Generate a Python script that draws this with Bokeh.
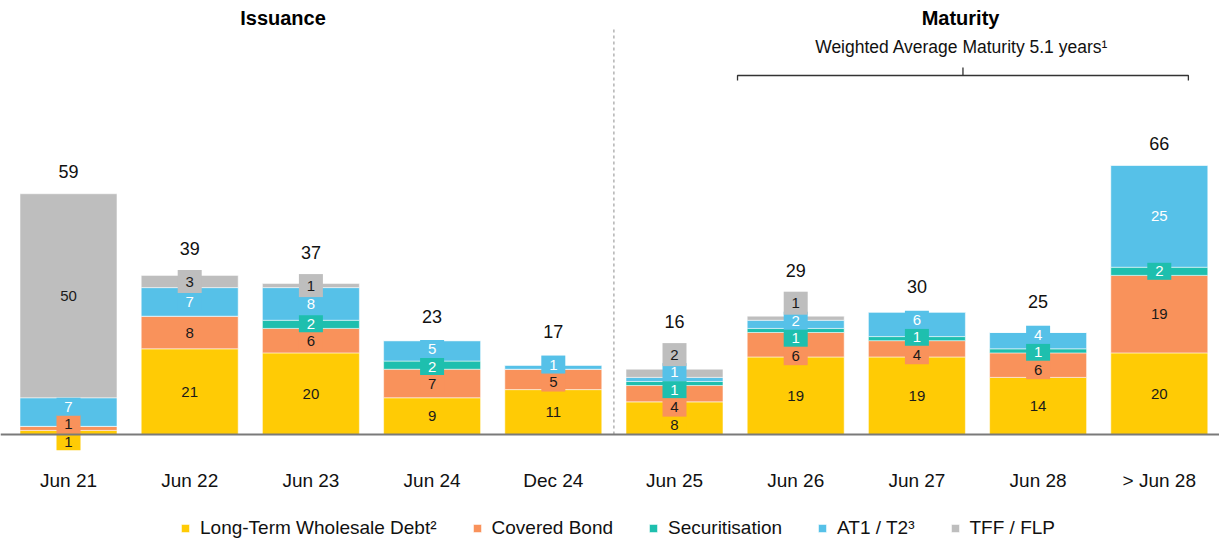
import numpy as np
from bokeh.plotting import figure
from bokeh.models import ColumnDataSource, Range1d, FixedTicker, Span, Legend, LegendItem
from bokeh.core.properties import value
from bokeh.embed import file_html
from bokeh.resources import INLINE

# ---------------- data ----------------
categories = ["Jun 21", "Jun 22", "Jun 23", "Jun 24", "Dec 24",
              "Jun 25", "Jun 26", "Jun 27", "Jun 28", "> Jun 28"]
ltwd = [1, 21, 20, 9, 11, 8, 19, 19, 14, 20]
covered_bond = [1, 8, 6, 7, 5, 4, 6, 4, 6, 19]
securitisation = [0, 0, 2, 2, 0, 1, 1, 1, 1, 2]
at1_t2 = [7, 7, 8, 5, 1, 1, 2, 6, 4, 25]
tff_flp = [50, 3, 1, 0, 0, 2, 1, 0, 0, 0]
totals = [59, 39, 37, 23, 17, 16, 29, 30, 25, 66]
series_names = ["Long-Term Wholesale Debt\u00b2", "Covered Bond", "Securitisation",
                "AT1 / T2\u00b3", "TFF / FLP"]
series_keys = ["ltwd", "cb", "sec", "at1", "tff"]
series_values = [ltwd, covered_bond, securitisation, at1_t2, tff_flp]
colors = ["#FFCB05", "#F9925B", "#1EBFAE", "#56C1E8", "#BEBEBE"]
label_colors = ["#1a1a1a", "#1a1a1a", "#ffffff", "#ffffff", "#1a1a1a"]
box_heights = [17, 19, 17, 18, 23]
issuance_title = "Issuance"
maturity_title = "Maturity"
maturity_subtitle = "Weighted Average Maturity 5.1 years\u00b9"

# ---------------- layout constants ----------------
W, H = 1219, 540
BASE_PX = 434            # baseline distance from frame top (px)
PPU = 4.08               # px per unit
y_end = BASE_PX / PPU
y_start = -(H - BASE_PX) / PPU
STEP_PX = 121.2
x_start = -68.0 / STEP_PX
x_end = x_start + W / STEP_PX
LABEL_GAP = 17.5 / PPU

SANS = "'Liberation Sans', Arial, sans-serif"

xs = list(range(len(categories)))
data = {"x": xs}
for k, v in zip(series_keys, series_values):
    data[k] = v
source = ColumnDataSource(data)

p = figure(width=W, height=H, output_backend="svg", toolbar_location=None,
           x_range=Range1d(x_start, x_end), y_range=Range1d(y_start, y_end),
           min_border_left=0, min_border_right=0, min_border_top=0,
           min_border_bottom=0)
p.outline_line_color = None
p.xgrid.visible = False
p.ygrid.visible = False
p.yaxis.visible = False

renderers = p.vbar_stack(series_keys, x="x", width=0.8, source=source, color=colors,
                         line_color="white", line_alpha=0.5, line_width=1)

# baseline
p.add_layout(Span(location=0, dimension="width", line_color="#7a7a7a", line_width=2))

# divider between issuance and maturity
div_x = 4.5
p.segment(x0=[div_x], y0=[0], x1=[div_x], y1=[(BASE_PX - 28) / PPU], line_color="#a0a0a0",
          line_width=1.2, line_dash="3 3")

# ---------------- segment labels ----------------
def spread(targets, d):
    clusters = [[t] for t in targets]
    merged = True
    while merged:
        merged = False
        for i in range(len(clusters) - 1):
            a, b = clusters[i], clusters[i + 1]
            top_a = np.mean(a) + (len(a) - 1) * d / 2
            bot_b = np.mean(b) - (len(b) - 1) * d / 2
            if bot_b - top_a < d:
                clusters[i] = a + b
                del clusters[i + 1]
                merged = True
                break
    pos = []
    for c in clusters:
        m, n = np.mean(c), len(c)
        pos += [m + (k - (n - 1) / 2) * d for k in range(n)]
    return pos

lx, ly, lt, lc = [], [], [], []
bx, by, bc, bh = [], [], [], []
total_y = []
for i in xs:
    base = 0.0
    targets, vals, sidx = [], [], []
    for s, vals_s in enumerate(series_values):
        v = vals_s[i]
        if v > 0:
            targets.append(base + v / 2)
            vals.append(v)
            sidx.append(s)
        base += v
    pos = spread(targets, LABEL_GAP)
    for t, y, v, s in zip(targets, pos, vals, sidx):
        lx.append(i); ly.append(y); lt.append(str(v)); lc.append(label_colors[s])
        if v * PPU < 30 or abs(y - t) * PPU > 2:
            bx.append(i); by.append(y); bc.append(colors[s]); bh.append(box_heights[s])
    total_y.append(max(totals[i] + 22 / PPU, pos[-1] + 33 / PPU))

p.rect(x=bx, y=by, width=24, height=bh, width_units="screen", height_units="screen",
       fill_color=bc, line_color=None)
p.text(x=lx, y=ly, text=lt, text_color=lc, text_align="center", text_baseline="middle",
       text_font=value(SANS), text_font_size="15px")

# totals
p.text(x=xs, y=total_y, text=[str(t) for t in totals],
       text_color="#111111", text_align="center", text_baseline="middle",
       text_font=value(SANS), text_font_size="18px")

# titles
p.text(x=[1.77, 7.36], y=[(BASE_PX - 17) / PPU] * 2, text=[issuance_title, maturity_title],
       text_color="#000000", text_align="center", text_baseline="middle",
       text_font=value(SANS), text_font_size="20px", text_font_style="bold")
p.text(x=[7.37], y=[(BASE_PX - 46) / PPU], text=[maturity_subtitle],
       text_color="#111111", text_align="center", text_baseline="middle",
       text_font=value(SANS), text_font_size="17.5px")

# bracket
bl, br, bm = 5.52, 9.24, 7.38
yb = (BASE_PX - 75) / PPU
p.multi_line(xs=[[bl, bl, br, br], [bm, bm]],
             ys=[[yb - 5 / PPU, yb, yb, yb - 5 / PPU], [yb, yb + 8 / PPU]],
             line_color="#333333", line_width=1.3)

# x axis drawn inside the frame just below the baseline
p.xaxis.fixed_location = -19 / PPU
p.xaxis.ticker = FixedTicker(ticks=xs)
p.xaxis.major_label_overrides = {i: c for i, c in zip(xs, categories)}
p.xaxis.axis_line_color = None
p.xaxis.major_tick_line_color = None
p.xaxis.minor_tick_line_color = None
p.xaxis.major_label_text_font = SANS
p.xaxis.major_label_text_font_size = "19px"
p.xaxis.major_label_text_color = "#111111"
p.xaxis.major_label_standoff = 10

legend = Legend(items=[LegendItem(label=n, renderers=[r]) for n, r in zip(series_names, renderers)],
                orientation="horizontal", location=(180, 1))
legend.label_text_font = SANS
legend.label_text_font_size = "19px"
legend.label_text_color = "#111111"
legend.glyph_width = 10
legend.glyph_height = 10
legend.label_height = 14
legend.label_standoff = 10
legend.spacing = 35
legend.padding = 0
legend.margin = 0
legend.border_line_color = None
legend.background_fill_alpha = 0
p.add_layout(legend)

open("out.html", "w").write(file_html(p, INLINE))
